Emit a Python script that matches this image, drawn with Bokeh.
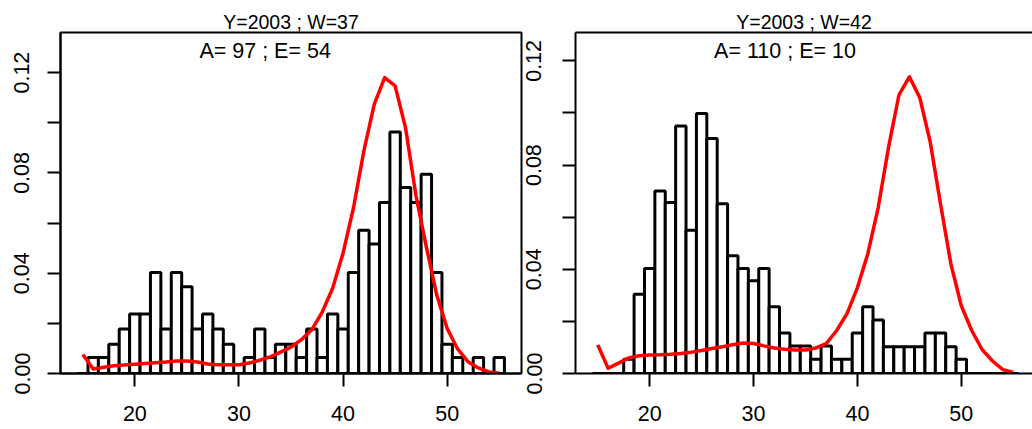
from bokeh.plotting import figure
from bokeh.layouts import row
from bokeh.models import Range1d, FixedTicker, Label, LinearAxis, PrintfTickFormatter
from bokeh.embed import file_html
from bokeh.resources import INLINE

# ---------------- data ----------------
lengths = list(range(15, 56))

left_hist = [0.0, 0.0064, 0.0064, 0.0117, 0.0177, 0.0237, 0.0237, 0.0403, 0.0177, 0.0403,
             0.0346, 0.0177, 0.0237, 0.0177, 0.0117, 0.0, 0.0064, 0.0177, 0.0064, 0.0117,
             0.0117, 0.0064, 0.0177, 0.0064, 0.0237, 0.0177, 0.0403, 0.0571, 0.0516, 0.0682,
             0.0963, 0.0742, 0.0682, 0.0795, 0.0403, 0.0117, 0.0064, 0.0, 0.0064, 0.0, 0.0064]

left_curve = [0.0076, 0.0018, 0.0025, 0.0031, 0.0034, 0.0037, 0.0040, 0.0043, 0.0046, 0.0050,
              0.0050, 0.0046, 0.0038, 0.0035, 0.0035, 0.0035, 0.0042, 0.0053, 0.0066, 0.0085,
              0.0105, 0.0135, 0.0175, 0.0245, 0.0340, 0.0480, 0.0660, 0.0888, 0.1074, 0.1180,
              0.1147, 0.0980, 0.0710, 0.0505, 0.0313, 0.0180, 0.0098, 0.0047, 0.0022, 0.0006, 0.0001]

right_hist = [0.0, 0.0, 0.0, 0.0055, 0.0304, 0.0403, 0.0701, 0.0656, 0.0950, 0.0550,
              0.0998, 0.0902, 0.0652, 0.0452, 0.0403, 0.0356, 0.0403, 0.0256, 0.0155, 0.0106,
              0.0106, 0.0055, 0.0106, 0.0055, 0.0055, 0.0155, 0.0256, 0.0205, 0.0103, 0.0103,
              0.0103, 0.0103, 0.0155, 0.0155, 0.0103, 0.0055, 0.0, 0.0, 0.0, 0.0, 0.0]

right_curve = [0.0110, 0.0020, 0.0040, 0.0060, 0.0068, 0.0071, 0.0072, 0.0074, 0.0077, 0.0082,
               0.0088, 0.0096, 0.0103, 0.0110, 0.0117, 0.0115, 0.0106, 0.0098, 0.0093, 0.0090,
               0.0090, 0.0098, 0.0115, 0.0165, 0.0230, 0.0330, 0.0460, 0.0637, 0.0870, 0.1070,
               0.1139, 0.1059, 0.0890, 0.0650, 0.0420, 0.0260, 0.0165, 0.0092, 0.0048, 0.0015, 0.0004]

titles = ["Y=2003 ; W=37", "Y=2003 ; W=42"]
subtitles = ["A= 97 ; E= 54", "A= 110 ; E= 10"]
x_ticks = [20, 30, 40, 50]
y_ticks = [0.0, 0.04, 0.08, 0.12]
y_minor_ticks = [0.02, 0.06, 0.10]
y_tops = [0.136, 0.1309]

FONT = "Liberation Sans"
X_START = 12.86
X_END_FULL = 57.14
FRAME_H = 341
FIG_H = 429


def style_axis(ax, standoff, vertical=False):
    ax.axis_line_width = 2
    ax.axis_line_color = "black"
    ax.major_tick_line_width = 2
    ax.major_tick_line_color = "black"
    ax.major_tick_out = 13
    ax.major_tick_in = 0
    ax.minor_tick_line_width = 2
    ax.minor_tick_line_color = "black"
    ax.minor_tick_out = 13
    ax.minor_tick_in = 0
    ax.major_label_text_font = FONT
    ax.major_label_text_font_size = "21.5px"
    ax.major_label_text_color = "black"
    ax.major_label_standoff = standoff
    if vertical:
        ax.major_label_orientation = "vertical"


def make_panel(hist, curve, title, sub, ytop, width, b_left, b_right, frame_w,
               full_box, y_standoff):
    px_per_unit = 461.0 / (X_END_FULL - X_START)
    x_end = X_START + frame_w / px_per_unit
    p = figure(width=width, height=FIG_H,
               x_range=Range1d(X_START, x_end), y_range=Range1d(0, ytop),
               output_backend="svg", toolbar_location=None,
               min_border_left=b_left, min_border_right=b_right,
               min_border_top=32, min_border_bottom=FIG_H - 32 - FRAME_H)
    p.grid.visible = False
    p.background_fill_color = "white"
    p.border_fill_color = "white"

    p.title.text = title
    p.title.align = "center"
    p.title.text_font = FONT
    p.title.text_font_size = "19.5px"
    p.title.text_font_style = "normal"
    p.title.text_color = "black"
    p.title.standoff = 0
    p.title.offset = 0

    lefts = [c - 0.5 for c in lengths]
    rights = [c + 0.5 for c in lengths]
    p.quad(left=lefts, right=rights, bottom=[0] * len(lengths), top=hist,
           fill_color="white", line_color="black", line_width=3)
    p.line(lengths, curve, line_color="red", line_width=3.5, line_join="round")

    p.xaxis.ticker = FixedTicker(ticks=x_ticks, minor_ticks=[])
    p.yaxis.ticker = FixedTicker(ticks=y_ticks, minor_ticks=y_minor_ticks)
    p.yaxis.formatter = PrintfTickFormatter(format="%.2f")
    style_axis(p.xaxis[0], 19)
    style_axis(p.yaxis[0], y_standoff, vertical=True)

    if full_box:
        p.outline_line_color = "black"
        p.outline_line_width = 2
        p.outline_line_alpha = 1
    else:
        p.outline_line_color = None
        top_ax = LinearAxis(ticker=FixedTicker(ticks=[]), axis_line_width=2,
                            axis_line_color="black", major_tick_out=0, major_tick_in=0,
                            minor_tick_out=0, minor_tick_in=0,
                            major_label_text_font_size="0px")
        p.add_layout(top_ax, "above")

    p.add_layout(Label(x=26.2, y=FRAME_H - 18,
                       x_units="data", y_units="screen", text=sub,
                       text_align="left", text_baseline="alphabetic",
                       text_font=FONT, text_font_size="21.5px", text_color="black"))
    return p


p1 = make_panel(left_hist, left_curve, titles[0], subtitles[0], y_tops[0],
                width=523, b_left=60, b_right=2, frame_w=461, full_box=True,
                y_standoff=18)
p2 = make_panel(right_hist, right_curve, titles[1], subtitles[1], y_tops[1],
                width=509, b_left=51, b_right=0, frame_w=458, full_box=False,
                y_standoff=21)

layout = row(p1, p2, spacing=0)

open("out.html", "w").write(file_html(layout, INLINE))
